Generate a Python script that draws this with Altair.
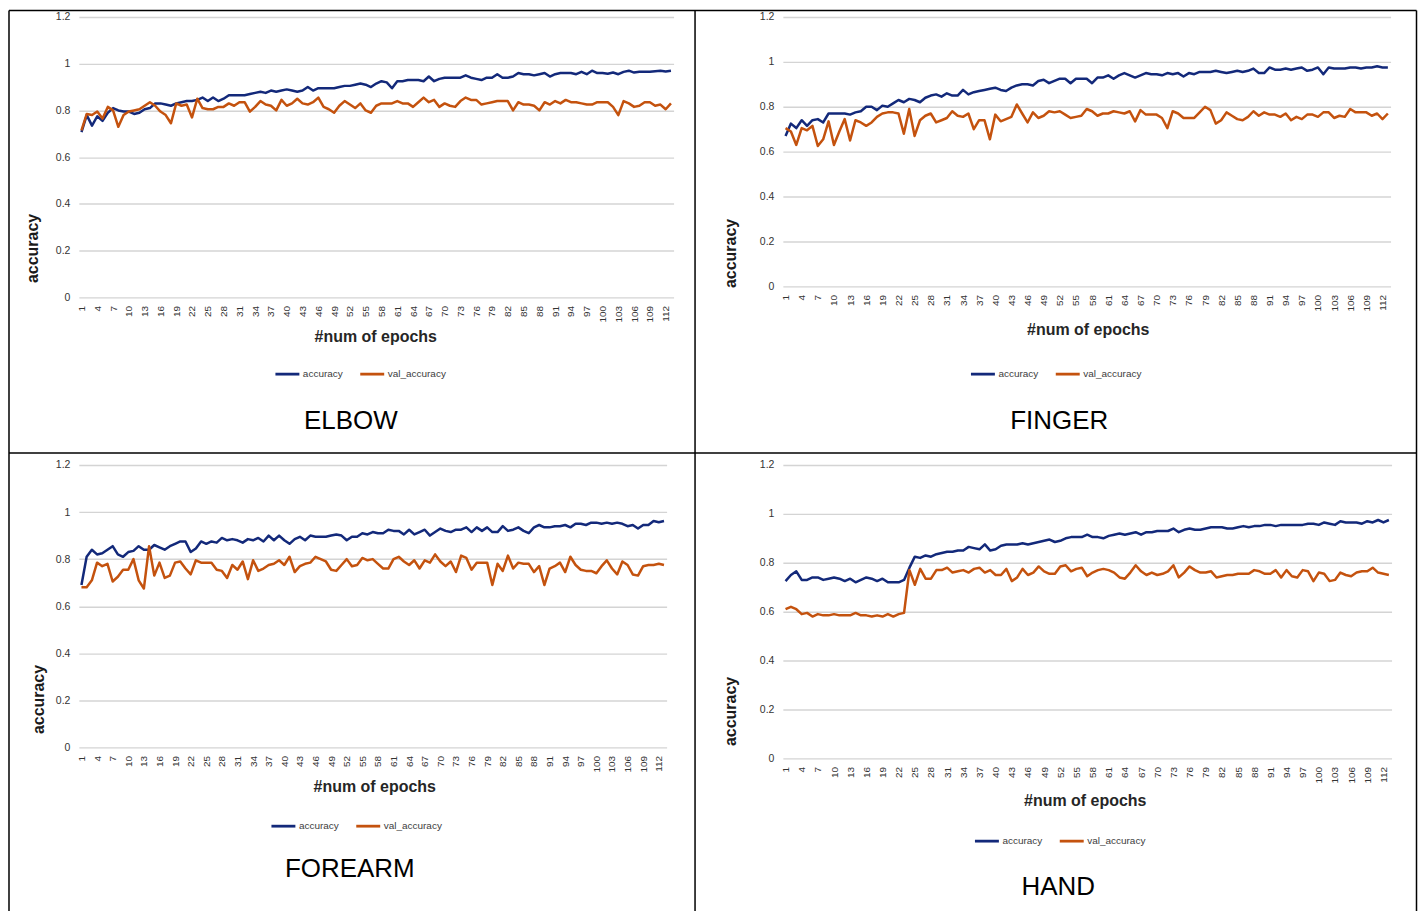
import altair as alt
import pandas as pd

EPOCHS = list(range(1, 114))
TICK_EPOCHS = list(range(1, 114, 3))
Y_TICKS = [0, 0.2, 0.4, 0.6, 0.8, 1, 1.2]
SERIES = ["accuracy", "val_accuracy"]

elbow_acc = [
    0.707, 0.78, 0.735, 0.775, 0.755, 0.79, 0.81, 0.80, 0.795, 0.795,
    0.785, 0.79, 0.805, 0.81, 0.83, 0.83, 0.825, 0.82, 0.83, 0.835,
    0.84, 0.84, 0.845, 0.855, 0.84, 0.855, 0.84, 0.85, 0.865, 0.865,
    0.865, 0.865, 0.87, 0.875, 0.88, 0.875, 0.885, 0.88, 0.885, 0.89,
    0.885, 0.88, 0.885, 0.90, 0.885, 0.895, 0.895, 0.895, 0.895, 0.90,
    0.905, 0.905, 0.91, 0.915, 0.91, 0.90, 0.915, 0.925, 0.92, 0.895,
    0.925, 0.925, 0.93, 0.93, 0.93, 0.925, 0.945, 0.925, 0.935, 0.94,
    0.94, 0.94, 0.94, 0.95, 0.94, 0.935, 0.93, 0.94, 0.94, 0.955,
    0.94, 0.94, 0.945, 0.96, 0.955, 0.955, 0.95, 0.955, 0.96, 0.945,
    0.955, 0.96, 0.96, 0.96, 0.955, 0.965, 0.955, 0.97, 0.96, 0.96,
    0.957, 0.962, 0.955, 0.965, 0.97, 0.962, 0.965, 0.965, 0.965, 0.968,
    0.97, 0.967, 0.97,
]
elbow_val = [
    0.715, 0.785, 0.78, 0.795, 0.765, 0.815, 0.80, 0.73, 0.78, 0.795,
    0.80, 0.805, 0.82, 0.835, 0.82, 0.795, 0.78, 0.745, 0.83, 0.82,
    0.825, 0.77, 0.85, 0.81, 0.805, 0.805, 0.815, 0.815, 0.83, 0.82,
    0.835, 0.835, 0.795, 0.815, 0.84, 0.825, 0.82, 0.80, 0.845, 0.82,
    0.83, 0.85, 0.83, 0.825, 0.835, 0.855, 0.815, 0.805, 0.79, 0.82,
    0.84, 0.825, 0.81, 0.83, 0.80, 0.79, 0.82, 0.83, 0.83, 0.83,
    0.84, 0.83, 0.83, 0.815, 0.835, 0.855, 0.835, 0.845, 0.815, 0.83,
    0.82, 0.815, 0.84, 0.855, 0.845, 0.845, 0.825, 0.83, 0.835, 0.84,
    0.84, 0.84, 0.80, 0.835, 0.825, 0.825, 0.82, 0.80, 0.835, 0.825,
    0.84, 0.83, 0.845, 0.835, 0.835, 0.83, 0.825, 0.825, 0.835, 0.835,
    0.835, 0.815, 0.78, 0.84, 0.83, 0.815, 0.82, 0.835, 0.835, 0.82,
    0.825, 0.805, 0.83,
]
finger_acc = [
    0.67, 0.725, 0.705, 0.74, 0.715, 0.74, 0.745, 0.73, 0.77, 0.77,
    0.77, 0.77, 0.765, 0.775, 0.78, 0.80, 0.80, 0.785, 0.805, 0.80,
    0.815, 0.83, 0.82, 0.835, 0.83, 0.82, 0.84, 0.85, 0.855, 0.845,
    0.86, 0.85, 0.85, 0.875, 0.855, 0.865, 0.87, 0.875, 0.88, 0.885,
    0.875, 0.87, 0.885, 0.895, 0.90, 0.90, 0.895, 0.915, 0.92, 0.905,
    0.915, 0.925, 0.925, 0.905, 0.925, 0.925, 0.925, 0.905, 0.93, 0.93,
    0.94, 0.925, 0.94, 0.95, 0.94, 0.93, 0.94, 0.95, 0.945, 0.945,
    0.94, 0.95, 0.945, 0.95, 0.935, 0.95, 0.945, 0.955, 0.955, 0.955,
    0.96, 0.955, 0.95, 0.955, 0.96, 0.955, 0.96, 0.97, 0.95, 0.95,
    0.975, 0.965, 0.965, 0.97, 0.965, 0.97, 0.975, 0.96, 0.965, 0.975,
    0.945, 0.975, 0.97, 0.97, 0.97, 0.975, 0.975, 0.97, 0.975, 0.975,
    0.98, 0.975, 0.975,
]
finger_val = [
    0.705, 0.69, 0.63, 0.705, 0.695, 0.715, 0.625, 0.655, 0.735, 0.63,
    0.69, 0.745, 0.65, 0.74, 0.73, 0.715, 0.73, 0.755, 0.77, 0.775,
    0.775, 0.77, 0.68, 0.79, 0.67, 0.74, 0.76, 0.77, 0.73, 0.74,
    0.75, 0.78, 0.76, 0.755, 0.77, 0.70, 0.74, 0.74, 0.655, 0.765,
    0.735, 0.745, 0.755, 0.81, 0.77, 0.73, 0.775, 0.75, 0.76, 0.78,
    0.775, 0.78, 0.765, 0.75, 0.755, 0.76, 0.79, 0.78, 0.76, 0.77,
    0.77, 0.78, 0.775, 0.77, 0.78, 0.735, 0.785, 0.765, 0.765, 0.765,
    0.75, 0.705, 0.78, 0.77, 0.75, 0.75, 0.75, 0.775, 0.80, 0.785,
    0.725, 0.74, 0.775, 0.76, 0.745, 0.74, 0.755, 0.78, 0.76, 0.775,
    0.765, 0.765, 0.755, 0.77, 0.74, 0.755, 0.745, 0.765, 0.765, 0.755,
    0.775, 0.775, 0.75, 0.76, 0.755, 0.79, 0.775, 0.775, 0.775, 0.76,
    0.77, 0.745, 0.77,
]
forearm_acc = [
    0.69, 0.81, 0.84, 0.82, 0.825, 0.84, 0.855, 0.82, 0.81, 0.83,
    0.835, 0.855, 0.84, 0.84, 0.86, 0.85, 0.84, 0.855, 0.865, 0.875,
    0.875, 0.83, 0.845, 0.875, 0.865, 0.875, 0.87, 0.89, 0.88, 0.885,
    0.88, 0.87, 0.885, 0.88, 0.89, 0.875, 0.90, 0.88, 0.90, 0.88,
    0.865, 0.885, 0.895, 0.88, 0.90, 0.895, 0.895, 0.895, 0.90, 0.905,
    0.90, 0.88, 0.895, 0.895, 0.91, 0.905, 0.915, 0.91, 0.91, 0.925,
    0.92, 0.92, 0.905, 0.925, 0.905, 0.915, 0.925, 0.90, 0.915, 0.93,
    0.92, 0.915, 0.925, 0.925, 0.935, 0.915, 0.935, 0.92, 0.935, 0.915,
    0.915, 0.94, 0.92, 0.925, 0.935, 0.92, 0.91, 0.935, 0.945, 0.935,
    0.935, 0.94, 0.94, 0.945, 0.935, 0.95, 0.95, 0.945, 0.955, 0.955,
    0.95, 0.955, 0.95, 0.955, 0.95, 0.94, 0.945, 0.93, 0.945, 0.945,
    0.962, 0.957, 0.962,
]
forearm_val = [
    0.68, 0.68, 0.71, 0.785, 0.77, 0.78, 0.705, 0.725, 0.755, 0.755,
    0.80, 0.71, 0.675, 0.855, 0.73, 0.785, 0.72, 0.73, 0.785, 0.79,
    0.76, 0.735, 0.795, 0.785, 0.785, 0.785, 0.755, 0.75, 0.72, 0.775,
    0.755, 0.79, 0.715, 0.795, 0.75, 0.76, 0.775, 0.78, 0.795, 0.775,
    0.81, 0.745, 0.77, 0.78, 0.785, 0.81, 0.80, 0.79, 0.755, 0.75,
    0.775, 0.80, 0.77, 0.775, 0.805, 0.795, 0.80, 0.78, 0.76, 0.76,
    0.80, 0.81, 0.79, 0.775, 0.795, 0.76, 0.795, 0.785, 0.82, 0.79,
    0.77, 0.79, 0.745, 0.815, 0.805, 0.755, 0.785, 0.785, 0.785, 0.69,
    0.78, 0.75, 0.815, 0.76, 0.785, 0.78, 0.78, 0.745, 0.77, 0.69,
    0.76, 0.77, 0.785, 0.745, 0.81, 0.775, 0.755, 0.75, 0.75, 0.74,
    0.77, 0.795, 0.76, 0.735, 0.79, 0.775, 0.735, 0.73, 0.77, 0.775,
    0.775, 0.78, 0.775,
]
hand_acc = [
    0.725, 0.75, 0.765, 0.73, 0.73, 0.74, 0.74, 0.73, 0.735, 0.74,
    0.735, 0.725, 0.735, 0.72, 0.73, 0.74, 0.735, 0.725, 0.735, 0.72,
    0.72, 0.72, 0.73, 0.78, 0.825, 0.82, 0.83, 0.825, 0.835, 0.84,
    0.845, 0.845, 0.85, 0.85, 0.865, 0.86, 0.855, 0.875, 0.85, 0.855,
    0.87, 0.875, 0.875, 0.875, 0.88, 0.875, 0.88, 0.885, 0.89, 0.895,
    0.885, 0.89, 0.90, 0.905, 0.905, 0.905, 0.915, 0.905, 0.905, 0.90,
    0.91, 0.915, 0.92, 0.915, 0.92, 0.925, 0.915, 0.925, 0.925, 0.93,
    0.93, 0.93, 0.94, 0.925, 0.935, 0.94, 0.935, 0.935, 0.94, 0.945,
    0.945, 0.945, 0.94, 0.94, 0.945, 0.95, 0.945, 0.95, 0.95, 0.955,
    0.955, 0.95, 0.955, 0.955, 0.955, 0.955, 0.955, 0.96, 0.96, 0.955,
    0.965, 0.96, 0.955, 0.97, 0.965, 0.965, 0.965, 0.96, 0.97, 0.965,
    0.975, 0.965, 0.975,
]
hand_val = [
    0.61, 0.62, 0.61, 0.59, 0.595, 0.58, 0.59, 0.585, 0.585, 0.59,
    0.585, 0.585, 0.585, 0.595, 0.585, 0.585, 0.58, 0.585, 0.58, 0.59,
    0.58, 0.59, 0.595, 0.77, 0.71, 0.775, 0.735, 0.735, 0.77, 0.77,
    0.78, 0.76, 0.765, 0.77, 0.76, 0.775, 0.78, 0.76, 0.77, 0.75,
    0.75, 0.775, 0.725, 0.74, 0.775, 0.75, 0.76, 0.785, 0.765, 0.755,
    0.755, 0.785, 0.79, 0.765, 0.775, 0.78, 0.745, 0.76, 0.77, 0.775,
    0.77, 0.76, 0.74, 0.735, 0.76, 0.79, 0.765, 0.75, 0.76, 0.75,
    0.755, 0.765, 0.79, 0.74, 0.76, 0.785, 0.77, 0.76, 0.76, 0.765,
    0.74, 0.745, 0.75, 0.75, 0.755, 0.755, 0.755, 0.77, 0.765, 0.755,
    0.755, 0.77, 0.74, 0.77, 0.745, 0.74, 0.77, 0.765, 0.725, 0.76,
    0.755, 0.725, 0.73, 0.76, 0.75, 0.745, 0.76, 0.765, 0.765, 0.78,
    0.76, 0.755, 0.75,
]

BLUE = "#13297a"
ORANGE = "#c4520e"
FONT = "Liberation Sans"
TICK_GREY = "#333333"
LEG_GREY = "#404040"


def txt(text, x, y, size, weight="normal", angle=0, color="#000000"):
    return alt.Chart(pd.DataFrame({"t": [text]})).mark_text(
        font=FONT, fontSize=size, fontWeight=weight, angle=angle, color=color,
        align="center", baseline="middle",
    ).encode(x=alt.value(x), y=alt.value(y), text="t:N")


def rule(x, y, x2=None, y2=None):
    enc = {"x": alt.value(x), "y": alt.value(y)}
    if x2 is not None:
        enc["x2"] = alt.value(x2)
    if y2 is not None:
        enc["y2"] = alt.value(y2)
    return alt.Chart(pd.DataFrame({"a": [0]})).mark_rule(
        color="#000000", strokeWidth=1.5).encode(**enc)


def panel(name, acc, val, w, h, ytitle, xtitle, leg, ttl, extra=()):
    df = pd.DataFrame({
        "epoch": EPOCHS + EPOCHS,
        "value": acc + val,
        "series": [SERIES[0]] * len(acc) + [SERIES[1]] * len(val),
    })
    lines = alt.Chart(df).mark_line(strokeWidth=2.5, strokeJoin="round").encode(
        x=alt.X("epoch:Q",
                scale=alt.Scale(domain=[0.5, 113.5], nice=False, zero=False),
                axis=alt.Axis(values=TICK_EPOCHS, labelAngle=-90, title=None,
                              grid=False, domain=False, ticks=False, tickSize=0,
                              labelPadding=8, labelFontSize=10, labelFont=FONT,
                              labelColor=TICK_GREY, labelOverlap=False, labelFlush=False)),
        y=alt.Y("value:Q",
                scale=alt.Scale(domain=[0, 1.2], nice=False),
                axis=alt.Axis(values=Y_TICKS, format="~g", title=None, grid=True,
                              domain=False, ticks=False, tickSize=0, labelPadding=9,
                              labelFontSize=10.5, labelFont=FONT, labelColor=TICK_GREY)),
        color=alt.Color("series:N",
                        scale=alt.Scale(domain=SERIES, range=[BLUE, ORANGE]),
                        legend=alt.Legend(title=None, orient="none", direction="horizontal",
                                          legendX=leg[0], legendY=leg[1] - 12, padding=0,
                                          symbolType="stroke", symbolSize=576,
                                          symbolStrokeWidth=2.8, labelFont=FONT,
                                          labelFontSize=10, labelColor=LEG_GREY,
                                          labelOffset=2, columnPadding=10)),
    )
    layers = [lines,
              txt("accuracy", ytitle[0], ytitle[1], 16, "bold", 270, "#1a1a1a"),
              txt("#num of epochs", xtitle[0], xtitle[1], 16, "bold", 0, "#262626"),
              txt(name, ttl[0], ttl[1], 26, "normal", 0, "#000000")]
    layers += list(extra)
    return alt.layer(*layers).properties(width=w, height=h)


# table borders, relative to the ELBOW plot origin
borders = [
    rule(-70, -6.5, x2=1340.5),
    rule(-70, 437, x2=1340.5),
    rule(-70, -6.5, y2=896),
    rule(617.5, -6.5, y2=896),
    rule(1340.5, -6.5, y2=896),
]

elbow = panel("ELBOW", elbow_acc, elbow_val, 596, 281,
              (-45.5, 232), (297.5, 321), (195.5, 356), (272.5, 405), borders)
finger = panel("FINGER", finger_acc, finger_val, 609, 270,
               (-52, 237), (306, 314), (187, 356), (277, 405))
forearm = panel("FOREARM", forearm_acc, forearm_val, 589, 283,
                (-39.5, 235), (296.5, 323), (191.5, 360), (271.5, 405))
hand = panel("HAND", hand_acc, hand_val, 610, 294,
             (-52, 247), (303, 337), (191, 375), (276, 423))

chart = alt.concat(
    elbow, finger, forearm, hand,
    columns=2, spacing={"row": 168, "column": 109.5}, bounds="flush", align="each",
).resolve_scale(color="independent").properties(padding=0).configure_view(
    stroke=None
).configure_axis(gridColor="#d4d4d4", gridWidth=1.4)

chart.save("out.html", embed_options={"renderer": "svg", "actions": False})
